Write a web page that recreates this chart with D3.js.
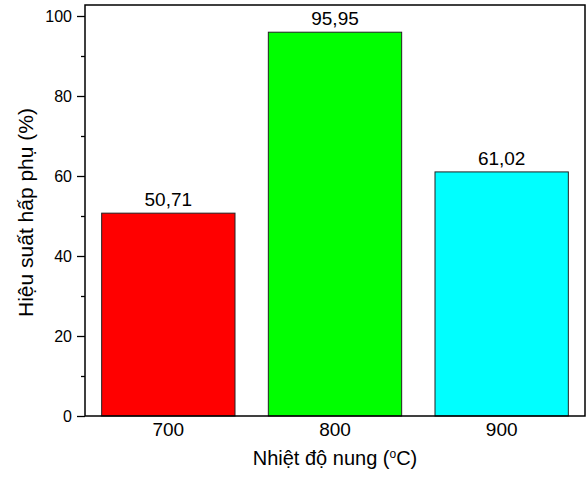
<!DOCTYPE html>
<html>
<head>
<meta charset="utf-8">
<script src="https://cdn.jsdelivr.net/npm/d3@7"></script>
<style>
  body { margin: 0; background: #fff; }
  svg text { font-family: "Liberation Sans", Arial, sans-serif; fill: #000; }
</style>
</head>
<body>
<div id="chart"></div>
<script>
// Chart data
const temperatures = ["700", "800", "900"];
const efficiency = [50.71, 95.95, 61.02];
const valueLabels = ["50,71", "95,95", "61,02"];
const barColors = ["#ff0000", "#00ff00", "#00ffff"];
const yTicks = [0, 20, 40, 60, 80, 100];
const yMinorTicks = [10, 30, 50, 70, 90];

const W = 587, H = 479;
const margin = { top: 5, right: 2, bottom: 63, left: 85 };
const width = W - margin.left - margin.right;
const height = H - margin.top - margin.bottom;

const svg = d3.select("#chart").append("svg")
    .attr("width", W)
    .attr("height", H);

const g = svg.append("g")
    .attr("transform", `translate(${margin.left},${margin.top})`);

// Scales
const x = d3.scaleBand()
    .domain(temperatures)
    .range([0, width])
    .paddingInner(0.2)
    .paddingOuter(0.1);

const y = d3.scaleLinear()
    .domain([0, 102.75])
    .range([height, 0]);

// Bars
g.selectAll(".bar")
    .data(temperatures)
    .enter()
    .append("rect")
    .attr("class", "bar")
    .attr("x", d => x(d))
    .attr("y", (d, i) => y(efficiency[i]))
    .attr("width", x.bandwidth())
    .attr("height", (d, i) => height - y(efficiency[i]))
    .attr("fill", (d, i) => barColors[i])
    .attr("stroke", "#222")
    .attr("stroke-width", 1);

// Value labels above bars
g.selectAll(".val")
    .data(temperatures)
    .enter()
    .append("text")
    .attr("class", "val")
    .attr("x", d => x(d) + x.bandwidth() / 2)
    .attr("y", (d, i) => y(efficiency[i]) - 7)
    .attr("text-anchor", "middle")
    .style("font-size", "19px")
    .text((d, i) => valueLabels[i]);

// Y axis (major ticks)
const yAxis = g.append("g")
    .call(d3.axisLeft(y).tickValues(yTicks).tickSize(8).tickPadding(5));
yAxis.select(".domain").remove();
yAxis.selectAll("line").attr("stroke", "#000").attr("stroke-width", 1.3);
yAxis.selectAll("text").style("font-size", "16px").attr("fill", "#000");

// Y axis minor ticks
g.append("g")
    .call(d3.axisLeft(y).tickValues(yMinorTicks).tickSize(4).tickFormat(""))
    .call(a => a.select(".domain").remove())
    .selectAll("line").attr("stroke", "#000").attr("stroke-width", 1.3);

// X axis labels (no tick marks)
const xAxis = g.append("g")
    .attr("transform", `translate(0,${height})`)
    .call(d3.axisBottom(x).tickSize(0).tickPadding(7));
xAxis.select(".domain").remove();
xAxis.selectAll("text").style("font-size", "19px").attr("fill", "#000");

// Frame
g.append("rect")
    .attr("x", 0)
    .attr("y", 0)
    .attr("width", width)
    .attr("height", height)
    .attr("fill", "none")
    .attr("stroke", "#000")
    .attr("stroke-width", 1.5);

// Axis titles
const xt = svg.append("text")
    .attr("x", margin.left + width / 2)
    .attr("y", 465)
    .attr("text-anchor", "middle")
    .style("font-size", "20px");
xt.append("tspan").text("Nhiệt độ nung (");
xt.append("tspan").attr("dy", -7).style("font-size", "12px").text("o");
xt.append("tspan").attr("dy", 7).text("C)");

svg.append("text")
    .attr("transform", `translate(33,${margin.top + height / 2 + 2}) rotate(-90)`)
    .attr("text-anchor", "middle")
    .style("font-size", "21px")
    .text("Hiệu suất hấp phụ (%)");
</script>
</body>
</html>
